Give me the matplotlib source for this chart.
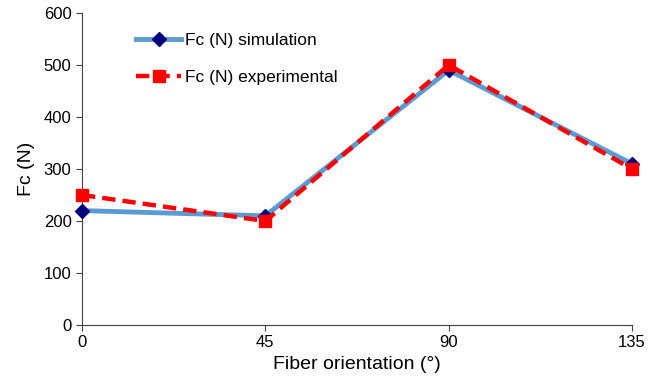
import matplotlib
matplotlib.use("Agg")
import matplotlib.pyplot as plt

plt.rcParams["font.family"] = ["Liberation Sans", "DejaVu Sans"]

# data
ORIENT = [0, 45, 90, 135]
FC_SIM = [220, 210, 490, 310]
FC_EXP = [250, 200, 500, 300]
YTICKS = [0, 100, 200, 300, 400, 500, 600]

fig = plt.figure(figsize=(6.48, 3.89), dpi=100)
ax = fig.add_axes([0.1265, 0.1645, 0.849, 0.802])

ax.plot(ORIENT, FC_SIM, color="#5B9BD5", linewidth=3.5, marker="D",
        markersize=7.5, markerfacecolor="#00007F", markeredgecolor="#00007F",
        label="Fc (N) simulation", zorder=3)
ax.plot(ORIENT, FC_EXP, color="#FF0000", linewidth=3.2, linestyle=(0, (3, 1.6)),
        marker="s", markersize=8.5, markerfacecolor="#FF0000", markeredgecolor="#FF0000",
        label="Fc (N) experimental", zorder=4)

ax.set_xlim(0, 135)
ax.set_ylim(0, 600)
ax.set_xticks(ORIENT)
ax.set_yticks(YTICKS)
ax.tick_params(labelsize=12, color="#404040", length=4)
for s in ("top", "right"):
    ax.spines[s].set_visible(False)
for s in ("left", "bottom"):
    ax.spines[s].set_color("#404040")

ax.set_xlabel("Fiber orientation (°)", fontsize=14, labelpad=4)
ax.set_ylabel("Fc (N)", fontsize=14, labelpad=6)
for ln in ax.lines:
    ln.set_clip_on(False)

ax.legend(loc="upper left", bbox_to_anchor=(0.07, 0.985), frameon=False,
          fontsize=12.5, handlelength=2.6, labelspacing=1.25, handletextpad=0.2)

plt.savefig("out.png", dpi=100, facecolor="white")
plt.close()
